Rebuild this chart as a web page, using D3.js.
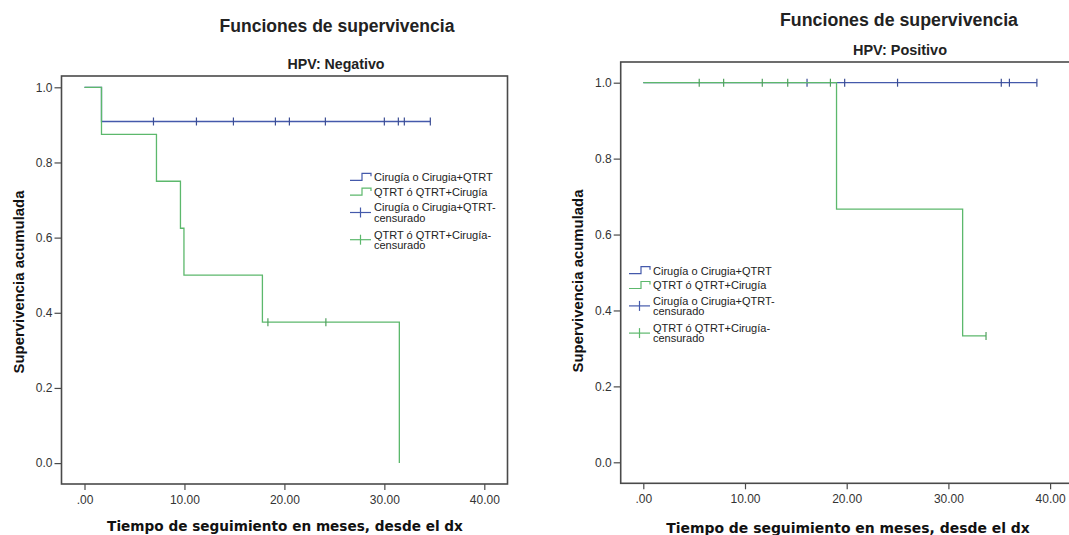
<!DOCTYPE html>
<html>
<head>
<meta charset="utf-8">
<script src="https://cdn.jsdelivr.net/npm/d3@7"></script>
<style>
  body { margin: 0; background: #fff; }
  svg { font-family: "Liberation Sans", Arial, sans-serif; }
</style>
</head>
<body>
<svg id="chart" width="1069" height="535"></svg>
<script>
// --- data (time in months, cumulative survival) ---
const negCirTimes = [0, 1.7];
const negCirSurv = [1.0, 0.909];
const negCirCensored = [6.9, 11.2, 14.9, 19.1, 20.5, 24.1, 30.0, 31.4, 32.0, 34.6];

const negQtrtTimes = [0, 1.7, 7.2, 9.6, 9.95, 17.8, 31.5];
const negQtrtSurv = [1.0, 0.875, 0.75, 0.625, 0.5, 0.375, 0.0];
const negQtrtCensored = [18.35, 24.15];

const posCirTimes = [0];
const posCirSurv = [1.0];
const posCirCensored = [16.1, 19.8, 25.0, 35.2, 36.0, 38.7];

const posQtrtTimes = [0, 19.0, 31.4];
const posQtrtSurv = [1.0, 0.667, 0.333];
const posQtrtCensored = [5.5, 7.9, 11.7, 14.2, 18.4, 33.7];

const xTicks = [0, 10, 20, 30, 40];
const xTickLabels = [".00", "10.00", "20.00", "30.00", "40.00"];
const yTicks = [0, 0.2, 0.4, 0.6, 0.8, 1.0];
const yTickLabels = ["0.0", "0.2", "0.4", "0.6", "0.8", "1.0"];

const legendLabels = [
    ["Cirugía o Cirugia+QTRT"],
    ["QTRT ó QTRT+Cirugía"],
    ["Cirugía o Cirugia+QTRT-", "censurado"],
    ["QTRT ó QTRT+Cirugía-", "censurado"]
];
const chartTitle = "Funciones de supervivencia";
const subtitles = ["HPV: Negativo", "HPV: Positivo"];
const xTitle = "Tiempo de seguimiento en meses, desde el dx";
const yTitle = "Supervivencia acumulada";

// --- styles / layout ---
const blue = "#4459ab";
const green = "#5cb86c";
const frameColor = "#4a4a4a";
const textColor = "#222";

const layouts = [
    { frame: [61.5, 76, 507.5, 484], xr: [84.5, 484.3], yr: [463.1, 87.3],
      title: [337, 25.5, 235], sub: [336, 64, 97], ytitle: [18.5, 282, 183], xtitle: [285, 526, 356],
      legend: [350, 177.3] },
    { frame: [620.7, 62, 1074, 483.3], xr: [643.3, 1050.1], yr: [462.3, 82.7],
      title: [899, 19.5, 238], sub: [900, 50, 94], ytitle: [578, 281, 183], xtitle: [848, 528, 364],
      legend: [629, 270.7] }
];

const panels = [
    { sub: subtitles[0], series: [
        { times: negCirTimes, surv: negCirSurv, cens: negCirCensored, color: blue },
        { times: negQtrtTimes, surv: negQtrtSurv, cens: negQtrtCensored, color: green }] },
    { sub: subtitles[1], series: [
        { times: posCirTimes, surv: posCirSurv, cens: posCirCensored, color: blue },
        { times: posQtrtTimes, surv: posQtrtSurv, cens: posQtrtCensored, color: green }] }
];

const svg = d3.select("#chart");
svg.append("rect").attr("width", 1069).attr("height", 535).attr("fill", "#fff");

panels.forEach((p, i) => drawPanel(p, layouts[i]));

function fitText(sel, width) {
    const w = sel.node().getComputedTextLength();
    const fs = parseFloat(sel.attr("font-size"));
    sel.attr("font-size", (fs * width / w).toFixed(2));
    return sel;
}

function survAt(times, surv, t) {
    const i = d3.bisectRight(times, t) - 1;
    return surv[Math.max(i, 0)];
}

function drawPanel(panel, L) {
    const g = svg.append("g");
    const x = d3.scaleLinear().domain([0, 40]).range(L.xr);
    const y = d3.scaleLinear().domain([0, 1]).range(L.yr);
    const [fx0, fy0, fx1, fy1] = L.frame;

    // titles
    fitText(g.append("text").text(chartTitle)
        .attr("x", L.title[0]).attr("y", L.title[1]).attr("dy", "0.36em")
        .attr("text-anchor", "middle").attr("font-size", 17).attr("font-weight", "bold")
        .attr("fill", textColor), L.title[2]);
    fitText(g.append("text").text(panel.sub)
        .attr("x", L.sub[0]).attr("y", L.sub[1]).attr("dy", "0.36em")
        .attr("text-anchor", "middle").attr("font-size", 13).attr("font-weight", "bold")
        .attr("fill", textColor), L.sub[2]);

    // frame
    g.append("rect")
        .attr("x", fx0).attr("y", fy0)
        .attr("width", fx1 - fx0).attr("height", fy1 - fy0)
        .attr("fill", "none").attr("stroke", frameColor).attr("stroke-width", 1.6);

    // axes
    const xAxis = d3.axisBottom(x).tickValues(xTicks)
        .tickFormat((d, k) => xTickLabels[k]).tickSize(6).tickSizeOuter(0).tickPadding(5);
    const xg = g.append("g").attr("transform", "translate(0," + fy1 + ")").call(xAxis);
    const yAxis = d3.axisLeft(y).tickValues(yTicks)
        .tickFormat((d, k) => yTickLabels[k]).tickSize(7).tickSizeOuter(0).tickPadding(2);
    const yg = g.append("g").attr("transform", "translate(" + fx0 + ",0)").call(yAxis);
    [xg, yg].forEach(a => {
        a.attr("font-family", null).attr("font-size", null);
        a.select(".domain").remove();
        a.selectAll("line").attr("stroke", frameColor).attr("stroke-width", 1.2);
        a.selectAll("text").attr("font-size", 12).attr("fill", "#333");
    });

    // axis titles
    fitText(g.append("text").text(xTitle)
        .attr("x", L.xtitle[0]).attr("y", L.xtitle[1]).attr("dy", "0.36em")
        .attr("text-anchor", "middle").attr("font-size", 13).attr("font-weight", "bold")
        .style("font-family", "'DejaVu Sans', Verdana, sans-serif").attr("fill", "#111"), L.xtitle[2]);
    fitText(g.append("text").text(yTitle)
        .attr("transform", "translate(" + L.ytitle[0] + "," + L.ytitle[1] + ") rotate(-90)")
        .attr("dy", "0.36em")
        .attr("text-anchor", "middle").attr("font-size", 14).attr("font-weight", "bold")
        .attr("fill", "#111"), L.ytitle[2]);

    // survival curves (blue first, green on top)
    const line = d3.line().x(d => x(d[0])).y(d => y(d[1])).curve(d3.curveStepAfter);
    panel.series.forEach(s => {
        const pts = s.times.map((t, k) => [t, s.surv[k]]);
        const tEnd = Math.max(s.times[s.times.length - 1], d3.max(s.cens));
        pts.push([tEnd, s.surv[s.surv.length - 1]]);
        g.append("path").datum(pts)
            .attr("d", line).attr("fill", "none")
            .attr("stroke", s.color).attr("stroke-width", 1.3);
        g.selectAll(null).data(s.cens).enter().append("line")
            .attr("x1", d => x(d)).attr("x2", d => x(d))
            .attr("y1", d => y(survAt(s.times, s.surv, d)) - 4)
            .attr("y2", d => y(survAt(s.times, s.surv, d)) + 4)
            .attr("stroke", d3.color(s.color).darker(0.4)).attr("stroke-width", 1.2);
    });

    // legend
    const [lx, ly] = L.legend;
    const rowY = [0, 14.8, 30.2, 57.4];
    const lg = g.append("g").attr("transform", "translate(" + lx + "," + ly + ")");
    const colors = [blue, green, blue, green];
    legendLabels.forEach((lines, k) => {
        const yy = rowY[k];
        if (k < 2) {
            lg.append("path")
                .attr("d", "M0," + (yy + 3) + "H12V" + (yy - 4) + "H21V" + (yy - 1))
                .attr("fill", "none").attr("stroke", colors[k]).attr("stroke-width", 1.2);
        } else {
            const cy = yy + 5;
            lg.append("line").attr("x1", 0).attr("x2", 21).attr("y1", cy).attr("y2", cy)
                .attr("stroke", colors[k]).attr("stroke-width", 1.2);
            lg.append("line").attr("x1", 10.5).attr("x2", 10.5).attr("y1", cy - 5).attr("y2", cy + 5)
                .attr("stroke", colors[k]).attr("stroke-width", 1.2);
        }
        lines.forEach((txt, j) => {
            lg.append("text").text(txt)
                .attr("x", 24).attr("y", yy + j * 10.2).attr("dy", "0.36em")
                .attr("font-size", 11).attr("fill", textColor);
        });
    });
}
</script>
</body>
</html>
